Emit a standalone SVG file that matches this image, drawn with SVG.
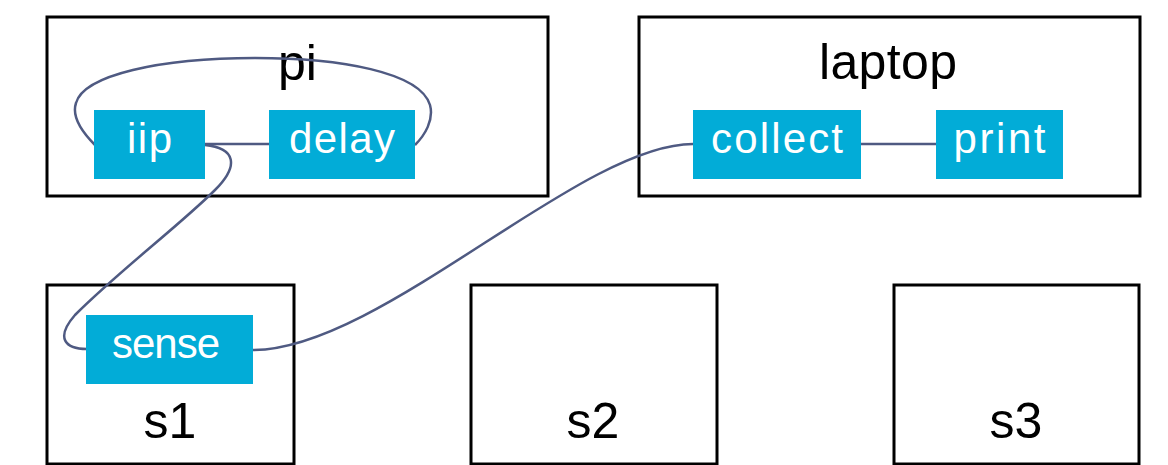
<svg xmlns="http://www.w3.org/2000/svg" width="1168" height="465" viewBox="0 0 1168 465">
<style>
.box{fill:#fff;stroke:#000;stroke-width:3}
.proc{fill:#02acd7}
.t{font-family:"Liberation Sans",Arial,sans-serif;text-anchor:middle}
.outer{font-size:50px;fill:#000}
.inner{font-size:42px;fill:#fff}
.c{fill:none;stroke:#4f5a82;stroke-width:2.5}
</style>
<rect width="1168" height="465" fill="#fff"/>
<g id="pi">
<rect class="box" x="47" y="17" width="501" height="179"/>
<text class="t outer" x="297.5" y="80">pi</text>
</g>
<g id="laptop">
<rect class="box" x="639" y="17" width="501" height="179"/>
<text class="t outer" x="888" y="79" textLength="138" lengthAdjust="spacing">laptop</text>
</g>
<g id="s1">
<rect class="box" x="47" y="285" width="247" height="179"/>
<text class="t outer" x="170" y="438">s1</text>
</g>
<g id="s2">
<rect class="box" x="471" y="285" width="246" height="179"/>
<text class="t outer" x="593" y="438">s2</text>
</g>
<g id="s3">
<rect class="box" x="894" y="285" width="245" height="179"/>
<text class="t outer" x="1016" y="438">s3</text>
</g>
<g id="connectors">
<path class="c" d="M205,144 L269,144"/>
<path class="c" d="M861,144 L936,144"/>
<path class="c" d="M95,145 C80,130 72,115 76,103 C84,75 160,58 255,58 C340,58 420,72 430,105 C434,120 425,135 415,145"/>
<path class="c" d="M205,145 C235,148 240,165 215,190 C180,225 120,270 75,315 C55,338 65,349 87,349"/>
<path class="c" d="M253,350 C380,350 580,144 693,144"/>
</g>
<g id="iip">
<rect class="proc" x="94" y="110" width="111" height="69"/>
<text class="t inner" x="149.5" y="153" textLength="45" lengthAdjust="spacing">iip</text>
</g>
<g id="delay">
<rect class="proc" x="269" y="110" width="146" height="69"/>
<text class="t inner" x="342" y="153" textLength="106" lengthAdjust="spacing">delay</text>
</g>
<g id="collect">
<rect class="proc" x="693" y="110" width="168" height="69"/>
<text class="t inner" x="777" y="153" textLength="132" lengthAdjust="spacing">collect</text>
</g>
<g id="print">
<rect class="proc" x="936" y="110" width="127" height="69"/>
<text class="t inner" x="999.5" y="153" textLength="92" lengthAdjust="spacing">print</text>
</g>
<g id="sense">
<rect class="proc" x="86" y="315" width="167" height="69"/>
<text class="t inner" x="166" y="358" textLength="108" lengthAdjust="spacing">sense</text>
</g>
</svg>
